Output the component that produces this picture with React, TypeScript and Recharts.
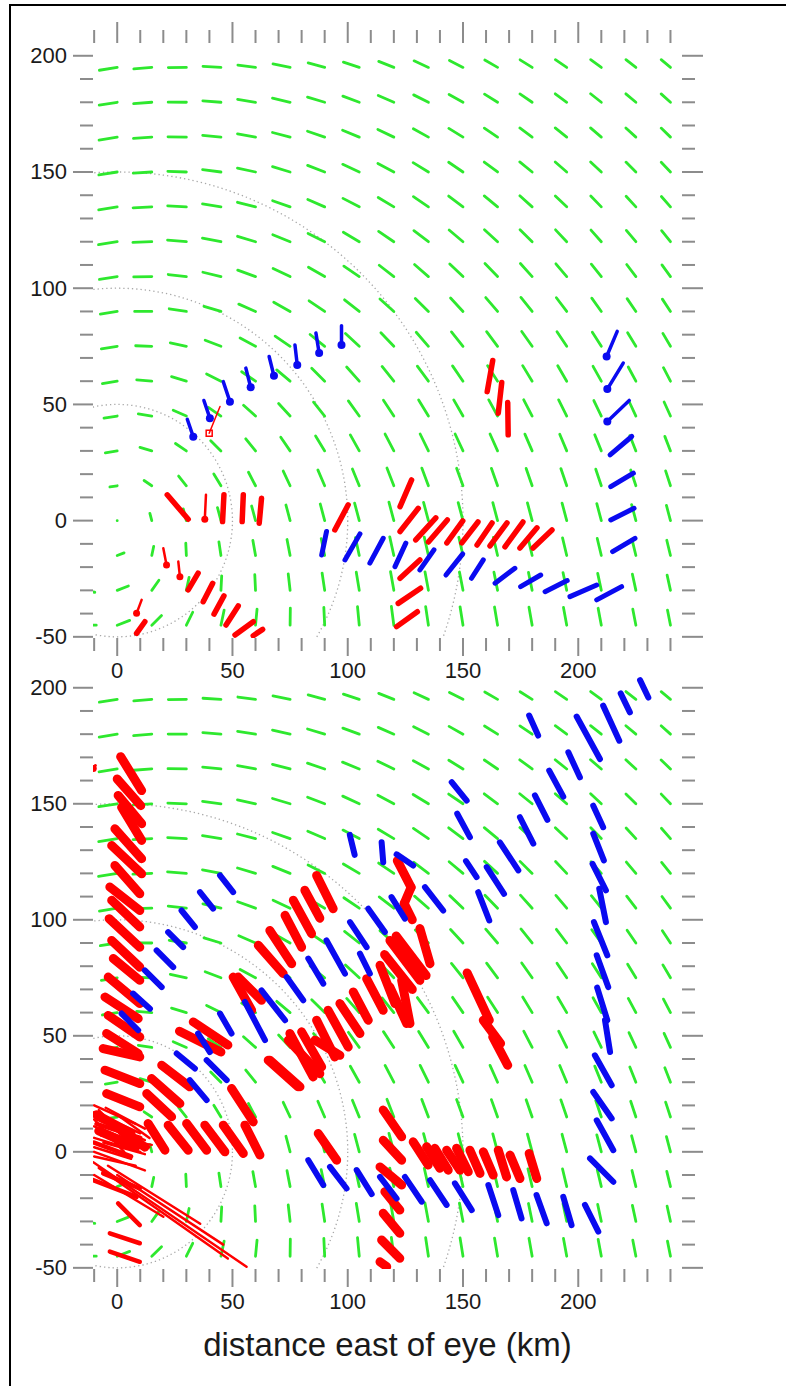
import React from 'react';
import { ScatterChart, Scatter, XAxis, YAxis } from 'recharts';

type Seg = [number, number, number, number];

// axes (km from the eye)
const X_DOMAIN: [number, number] = [-10.5, 245];
const Y_DOMAIN: [number, number] = [-50.5, 205.5];
const X_TICKS = [-10, 0, 10, 20, 30, 40, 50, 60, 70, 80, 90, 100, 110, 120, 130, 140, 150, 160, 170, 180, 190, 200, 210, 220, 230, 240];
const Y_TICKS = [-50, -40, -30, -20, -10, 0, 10, 20, 30, 40, 50, 60, 70, 80, 90, 100, 110, 120, 130, 140, 150, 160, 170, 180, 190, 200];
const X_LABELS = [0, 50, 100, 150, 200];
const Y_LABELS = [-50, 0, 50, 100, 150, 200];
const X_TITLE = 'distance east of eye (km)';

// range rings round the eye
const RINGS = [50, 100, 150];

// background (green) wind field, bases on a 15 km grid
const GRID_X = [-15, 0, 15, 30, 45, 60, 75, 90, 105, 120, 135, 150, 165, 180, 195, 210, 225, 240];
const GRID_Y = [-45, -30, -15, 0, 15, 30, 45, 60, 75, 90, 105, 120, 135, 150, 165, 180, 195];
// inflow angle, by azimuth (deg)
const INFLOW_AZ = [-180, -90, -45, -20, 0, 30, 60, 90, 180];
const INFLOW_DEG = [10, 21, 33, 28, 15, 12, 10, 9, 10];
// arrow length (km) by distance from the eye (km)
const SPEED_R = [0, 15, 30, 45, 60, 90, 120, 200, 250, 310, 400];
const SPEED_LEN = [0, 3.2, 5.2, 5.8, 6.5, 7.4, 8.2, 7.8, 6.5, 5.2, 5.0];

// upper panel: observed vectors [x1, y1, x2, y2] (km)
const P1_BLUE_DOT: Seg[] = [
  [30.4, 43.6, 33.0, 36.1], [37.6, 51.7, 40.2, 44.1], [46.0, 59.8, 48.9, 51.2], [55.8, 65.6, 57.9, 57.4],
  [65.9, 70.6, 68.0, 62.3], [77.1, 75.6, 78.1, 67.0], [86.2, 80.7, 87.6, 72.1], [97.3, 83.8, 97.3, 75.6],
  [216.9, 81.4, 212.3, 70.6], [219.5, 67.8, 212.6, 56.6], [222.1, 51.7, 212.6, 42.6],
];
const P1_BLUE: Seg[] = [
  [223.2, 36.2, 213.8, 28.3], [223.9, 20.4, 214.1, 14.6], [224.2, 5.3, 214.1, 0.3], [224.6, -7.6, 214.9, -13.3],
  [90.8, -4.7, 88.7, -14.8], [105.3, -5.7, 98.8, -16.9], [115.4, -7.6, 109.6, -18.3], [125.2, -9.7, 120.5, -19.8],
  [137.4, -12.6, 131.3, -21.2], [149.9, -14.3, 142.6, -23.4], [158.8, -16.9, 153.7, -24.8], [172.5, -20.5, 163.9, -26.9],
  [183.7, -23.4, 175.0, -28.4], [195.2, -25.8, 185.6, -30.6], [208.0, -27.7, 196.4, -32.7], [218.8, -28.4, 208.0, -34.1],
];
const P1_RED: Seg[] = [
  [21.7, 11.1, 30.8, 0.6], [46.3, 11.1, 45.7, -0.4], [54.7, 11.1, 54.2, -0.4], [62.6, 9.6, 61.6, -1.1],
  [35.1, -22.6, 30.8, -29.8], [41.4, -27.0, 37.3, -34.9], [46.3, -32.4, 42.0, -40.2], [52.5, -36.7, 47.2, -44.9],
  [59.0, -43.5, 51.1, -49.2], [63.1, -46.8, 59.0, -49.5], [12.0, -43.5, 8.4, -48.5], [100.2, 6.8, 94.4, -4.0],
  [162.9, 68.9, 160.5, 55.5], [166.8, 59.4, 165.3, 46.2], [169.4, 50.8, 169.6, 36.9],
  [127.7, 17.5, 122.7, 6.0], [130.6, 5.3, 122.7, -4.7], [131.3, -16.9, 122.7, -24.8], [131.6, -29.1, 121.9, -35.6],
  [130.2, -39.2, 121.2, -45.6],
  [138.2, 1.2, 129.5, -8.3], [143.2, 0.3, 135.0, -9.2], [149.9, -0.1, 143.0, -9.6], [156.5, -0.6, 149.5, -9.6],
  [162.6, -1.0, 156.1, -10.5], [169.1, -1.0, 161.7, -10.9], [176.0, -0.6, 168.2, -11.3], [182.1, -3.1, 174.7, -11.8],
  [188.6, -4.0, 180.4, -11.8],
];
const P1_RED_DOT: Seg[] = [
  [38.5, 11.1, 38.0, 0.6], [20.0, -11.9, 21.4, -19.1], [26.5, -17.6, 27.2, -24.1], [10.6, -34.1, 8.4, -39.9],
];
const P1_RED_SQUARE: Seg[] = [[44.6, 49.1, 39.9, 37.6]];

// lower panel
const P2_BLUE: Seg[] = [
  [226.8, 203.3, 230.4, 195.8], [218.4, 197.6, 222.4, 189.4], [210.8, 192.3, 217.8, 177.2], [199.3, 187.6, 209.4, 169.3],
  [178.7, 188.0, 182.6, 179.4], [195.7, 172.2, 200.7, 161.4], [187.4, 164.3, 193.5, 153.1], [181.2, 153.6, 186.6, 143.1],
  [174.7, 144.2, 180.5, 132.8], [166.0, 133.4, 174.0, 121.3], [145.1, 159.3, 151.6, 151.4], [147.5, 145.7, 153.0, 135.6],
  [151.3, 125.3, 155.9, 118.4], [160.3, 122.7, 167.8, 111.2], [156.6, 111.9, 161.4, 99.7],
  [206.5, 149.2, 210.8, 139.9], [206.5, 137.1, 211.1, 125.6], [206.2, 124.1, 212.0, 112.7], [209.1, 113.4, 212.0, 99.0],
  [206.8, 99.0, 212.6, 84.7], [208.0, 84.7, 213.0, 71.0], [208.2, 70.8, 212.6, 56.7], [211.6, 56.7, 213.8, 43.0],
  [207.2, 41.6, 214.5, 28.7], [206.5, 25.8, 214.5, 14.4], [208.0, 13.6, 215.2, 0.7], [205.1, -2.8, 215.2, -12.9],
  [202.9, -22.9, 208.7, -34.4], [193.5, -19.4, 197.1, -31.6], [181.9, -18.6, 186.3, -30.8], [171.8, -16.5, 175.4, -28.7],
  [161.0, -14.3, 165.3, -27.3], [146.5, -13.6, 153.8, -25.1], [135.7, -12.2, 142.9, -22.9], [124.8, -10.8, 132.1, -21.5],
  [114.0, -10.8, 121.2, -20.1], [103.9, -7.9, 110.4, -18.2], [92.3, -6.5, 99.5, -15.8], [82.9, -3.6, 89.4, -14.3],
  [100.9, 136.6, 103.0, 128.0], [114.7, 133.4, 115.4, 124.8], [121.2, 128.2, 128.4, 123.4], [133.5, 114.1, 141.4, 104.0],
  [119.0, 109.8, 124.8, 100.5], [108.9, 104.8, 116.1, 94.7], [101.0, 99.0, 108.2, 88.2], [105.3, 85.4, 109.6, 76.8],
  [90.8, 91.1, 98.8, 76.8], [82.9, 83.3, 89.4, 72.5], [73.5, 75.3, 80.7, 65.3], [62.6, 69.6, 72.8, 56.7],
  [55.4, 64.6, 64.1, 48.1], [44.6, 59.6, 49.6, 51.0], [44.6, 119.1, 50.3, 111.9], [35.9, 111.9, 41.6, 104.8],
  [27.9, 104.0, 33.7, 96.9], [22.1, 94.7, 28.6, 88.2], [17.1, 86.8, 24.3, 79.6], [12.0, 78.2, 19.3, 71.0],
  [6.9, 68.2, 14.2, 61.7], [1.9, 59.6, 9.1, 52.4], [35.1, 51.0, 40.2, 43.0], [25.8, 42.4, 33.7, 35.9],
  [38.8, 39.5, 47.5, 30.9], [31.5, 30.9, 38.8, 22.3],
];
const P2_RED: Seg[] = [
  [1.5, 170.3, 10.6, 155.7], [0.0, 160.7, 10.2, 149.2], [0.4, 153.6, 10.6, 141.4], [1.9, 148.5, 10.6, 134.2],
  [-1.0, 139.2, 10.6, 126.3], [-2.4, 132.0, 10.6, 119.8], [-1.0, 123.4, 9.8, 111.2], [-3.2, 114.1, 9.8, 104.0],
  [-2.4, 108.4, 9.8, 96.9], [-3.5, 100.5, 9.8, 88.2], [-2.4, 91.1, 9.8, 79.6], [-1.7, 83.3, 9.8, 73.9],
  [-3.9, 75.3, 9.8, 63.9], [-5.3, 66.7, 9.1, 57.4], [-3.9, 58.8, 9.8, 49.5], [-4.6, 51.0, 9.1, 42.4],
  [-6.1, 44.5, 9.8, 40.9], [-5.3, 35.2, 9.8, 29.4], [-4.6, 25.1, 9.8, 19.4], [-9.0, 16.0, 6.0, 8.0], [-2.0, 12.0, 12.0, 2.0],
  [-8.0, 9.0, 8.0, 2.0],
  [27.0, 52.0, 45.0, 43.0], [33.0, 56.0, 48.0, 46.0], [19.3, 37.3, 31.5, 28.0], [14.9, 31.6, 27.2, 20.8],
  [12.8, 25.1, 23.6, 15.1], [13.4, 12.2, 20.7, 0.7], [22.1, 11.5, 30.8, 0.7], [30.1, 12.2, 38.8, 0.7],
  [38.0, 11.5, 46.7, 0.0], [46.0, 11.5, 54.7, -0.7], [55.4, 11.5, 61.9, -1.4], [49.6, 27.3, 59.0, 12.9],
  [65.5, 39.5, 78.5, 28.0], [74.2, 48.1, 87.9, 33.7], [85.8, 48.1, 96.6, 41.6], [87.2, 7.9, 95.2, -3.6],
  [86.5, 119.1, 93.7, 104.8], [81.4, 112.7, 87.9, 100.7], [76.4, 108.4, 84.3, 94.0], [72.8, 101.9, 80.0, 88.2],
  [66.2, 95.4, 75.7, 81.1], [61.2, 89.0, 72.0, 76.8], [50.3, 75.3, 58.3, 61.0], [52.5, 75.3, 62.6, 65.3],
  [74.9, 51.0, 85.0, 32.3], [80.0, 51.7, 88.7, 36.6], [86.5, 56.7, 94.4, 40.9], [91.5, 61.0, 100.2, 45.2],
  [96.6, 63.9, 105.3, 51.0], [102.4, 68.9, 108.9, 56.7], [108.2, 74.6, 115.4, 61.0], [114.0, 80.4, 120.5, 63.9],
  [118.3, 71.0, 125.6, 55.3], [66.2, 39.5, 79.3, 28.0], [118.3, 91.1, 131.3, 73.9], [121.0, 93.0, 134.0, 76.0],
  [116.0, 85.0, 128.0, 70.0], [121.5, 125.5, 127.5, 114.0], [127.5, 114.0, 124.5, 107.0], [124.5, 107.0, 128.0, 100.0],
  [131.3, 96.2, 135.7, 81.1], [123.4, 73.9, 127.0, 55.3], [151.8, 77.1, 161.4, 56.7], [158.8, 56.7, 166.3, 46.7],
  [162.9, 49.5, 169.4, 37.3],
  [115.4, 18.0, 123.4, 6.5], [115.4, 5.0, 123.4, -3.6], [114.0, -6.5, 123.4, -14.3], [116.1, -17.2, 122.6, -25.1],
  [115.4, -26.5, 122.6, -35.1], [114.7, -38.0, 122.6, -45.9], [114.0, -47.4, 116.9, -49.5],
  [128.4, 4.3, 134.9, -5.7], [134.2, 2.2, 140.0, -7.1], [137.8, 1.5, 143.6, -7.9], [142.9, 0.7, 148.7, -7.9],
  [147.2, 1.5, 152.3, -8.6], [153.0, 0.7, 157.4, -9.3], [158.8, 0.0, 163.1, -10.0], [165.3, 0.7, 168.9, -10.8],
  [170.4, -1.4, 174.7, -11.5], [178.7, -0.7, 182.0, -11.5],
];
const P2_RED_MED: Seg[] = [
  [-6.1, -9.3, 9.8, -15.8], [0.4, -22.2, 9.8, -31.6], [-3.2, -35.1, 9.8, -39.4], [-3.2, -43.0, 9.8, -47.4],
  [-10.4, -12.2, 8.4, -19.4], [-10.0, 4.0, 6.0, -2.0], [-9.0, 12.0, 10.0, 6.0],
];
const P2_RED_THIN: Seg[] = [
  [-10, 20, 8, 12], [-10, 17, 10, 8], [-9, 14, 12, 5], [-10, 11, 8, 4], [-8, 9, 14, 2], [-10, 6, 10, 0],
  [-6, 4, 12, -1], [-10, 2, 6, -3], [-4, 13, 6, 3], [-8, 18, 4, 6], [0, 16, 14, 6], [-10, -2, 8, -6],
  [-10, 0, 12, -8], [-7, 7, 15, 3], [-10, 14, 3, 0], [-5, 19, 12, 10],
  [-10.4, -4.5, 56.1, -49.5], [-4, -6, 36, -31], [0, -10, 46, -40], [-10, -10, 20, -28], [-8, -7, 48, -46],
];
const P2_RED_DOT: Seg[] = [[-9.5, 166.5, -10.4, 165.2]];

const PLOT_LEFT = 93;
const PLOT_RIGHT = 682;
const GREEN = '#2ee82e';
const RED = '#ff0000';
const BLUE = '#0a0af0';
const TICK = '#8c8c8c';
const FONT = '"Liberation Sans", Arial, sans-serif';

const lerp = (xs: number[], ys: number[], v: number) => {
  if (v <= xs[0]) return ys[0];
  for (let i = 1; i < xs.length; i++) {
    if (v <= xs[i]) return ys[i - 1] + ((v - xs[i - 1]) / (xs[i] - xs[i - 1])) * (ys[i] - ys[i - 1]);
  }
  return ys[ys.length - 1];
};

// green arrows: tangent to the ring about the eye, turned inward by the inflow angle
const greenField = GRID_Y.flatMap((gy) =>
  GRID_X.map((gx) => {
    const r = Math.hypot(gx, gy);
    if (r === 0) return { x: 0, y: 0, x2: 0, y2: 0 };
    const a = (lerp(INFLOW_AZ, INFLOW_DEG, (Math.atan2(gy, gx) * 180) / Math.PI) * Math.PI) / 180;
    const tx = -gy / r, ty = gx / r;
    const nx = -gx / r, ny = -gy / r;
    const len = lerp(SPEED_R, SPEED_LEN, r);
    return {
      x: gx, y: gy,
      x2: gx + (Math.cos(a) * tx + Math.sin(a) * nx) * len,
      y2: gy + (Math.cos(a) * ty + Math.sin(a) * ny) * len,
    };
  })
);

const toPts = (segs: Seg[]) => segs.map(([x, y, x2, y2]) => ({ x, y, x2, y2 }));
const ringPts = RINGS.map((r) => ({ x: 0, y: 0, r }));

interface Geo { kx: number; ky: number; top: number; bottom: number }

const vecShape = (g: Geo, color: string, width: number, cap?: 'dot' | 'square', capSize = 4) => (props: any) => {
  const { cx, cy, payload } = props;
  const ex = cx + (payload.x2 - payload.x) * g.kx;
  const ey = cy - (payload.y2 - payload.y) * g.ky;
  return (
    <g>
      <line x1={cx} y1={cy} x2={ex} y2={ey} stroke={color} strokeWidth={width} strokeLinecap="round" />
      {cap === 'dot' && <circle cx={ex} cy={ey} r={capSize} fill={color} />}
      {cap === 'square' && (
        <rect x={ex - capSize} y={ey - capSize} width={capSize * 2} height={capSize * 2} fill="none" stroke={color} strokeWidth={1.5} />
      )}
    </g>
  );
};

const ringShape = (g: Geo) => (props: any) => {
  const { cx, cy, payload } = props;
  return (
    <ellipse cx={cx} cy={cy} rx={payload.r * g.kx} ry={payload.r * g.ky} fill="none" stroke="#a8a8a8"
      strokeWidth={1.3} strokeDasharray="1.3 3" />
  );
};

interface Layer { data: Seg[]; color: string; width: number; cap?: 'dot' | 'square'; capSize?: number }

interface PanelProps {
  top: number;
  height: number;
  plotTop: number;
  plotBottom: number;
  topTicks: boolean;
  layers: Layer[];
}

function Panel({ top, height, plotTop, plotBottom, topTicks, layers }: PanelProps) {
  const g: Geo = {
    kx: (PLOT_RIGHT - PLOT_LEFT) / (X_DOMAIN[1] - X_DOMAIN[0]),
    ky: (plotBottom - plotTop) / (Y_DOMAIN[1] - Y_DOMAIN[0]),
    top: plotTop - top,
    bottom: plotBottom - top,
  };

  const xTick = (p: any) => {
    const v = p.payload.value;
    const major = v % 50 === 0;
    const y0 = g.bottom;
    return (
      <g>
        <line x1={p.x} x2={p.x} y1={y0} y2={y0 + (major ? 18 : 13)} stroke={TICK} strokeWidth={2} />
        {topTicks && (
          <line x1={p.x} x2={p.x} y1={g.top - (major ? 21 : 13)} y2={g.top} stroke={TICK} strokeWidth={2} />
        )}
        {X_LABELS.includes(v) && (
          <text x={p.x} y={y0 + 32} textAnchor="middle" dominantBaseline="central" fontSize={22}
            fontFamily={FONT} fill="#1a1a1a">{v}</text>
        )}
      </g>
    );
  };

  const yTick = (p: any) => {
    const v = p.payload.value;
    const major = v % 50 === 0;
    const x0 = PLOT_LEFT;
    return (
      <g>
        <line x1={x0 - (major ? 20 : 13)} x2={x0} y1={p.y} y2={p.y} stroke={TICK} strokeWidth={2} />
        <line x1={PLOT_RIGHT} x2={PLOT_RIGHT + (major ? 21 : 13)} y1={p.y} y2={p.y} stroke={TICK} strokeWidth={2} />
        {Y_LABELS.includes(v) && (
          <text x={x0 - 26} y={p.y} textAnchor="end" dominantBaseline="central" fontSize={22}
            fontFamily={FONT} fill="#1a1a1a">{v}</text>
        )}
      </g>
    );
  };

  return (
    <div style={{ position: 'absolute', left: 0, top }}>
      <ScatterChart
        width={786}
        height={height}
        margin={{ top: plotTop - top, right: 786 - PLOT_RIGHT, bottom: top + height - plotBottom - 1, left: PLOT_LEFT - 1 }}
      >
        <XAxis type="number" dataKey="x" domain={X_DOMAIN} ticks={X_TICKS} interval={0} allowDataOverflow
          axisLine={false} tickLine={false} tickSize={0} tickMargin={0} height={1} tick={xTick} />
        <YAxis type="number" dataKey="y" domain={Y_DOMAIN} ticks={Y_TICKS} interval={0} allowDataOverflow
          axisLine={false} tickLine={false} tickSize={0} tickMargin={0} width={1} tick={yTick} />
        <Scatter data={ringPts} shape={ringShape(g)} isAnimationActive={false} />
        <Scatter data={greenField} shape={vecShape(g, GREEN, 2.8)} isAnimationActive={false} />
        {layers.map((l, i) => (
          <Scatter key={i} data={toPts(l.data)} shape={vecShape(g, l.color, l.width, l.cap, l.capSize)}
            isAnimationActive={false} />
        ))}
      </ScatterChart>
    </div>
  );
}

export default function App() {
  return (
    <div style={{ position: 'absolute', left: 0, top: 0, width: 786, height: 1386, overflow: 'hidden', background: '#fff' }}>
      <div style={{ position: 'absolute', left: 9, top: 4, width: 777, height: 1382, borderLeft: '2px solid #000', borderTop: '2px solid #000' }} />
      <Panel
        top={0}
        height={700}
        plotTop={43}
        plotBottom={638}
        topTicks
        layers={[
          { data: P1_RED, color: RED, width: 5.5 },
          { data: P1_RED_DOT, color: RED, width: 2.5, cap: 'dot', capSize: 3.5 },
          { data: P1_RED_SQUARE, color: RED, width: 1.5, cap: 'square', capSize: 3 },
          { data: P1_BLUE, color: BLUE, width: 5 },
          { data: P1_BLUE_DOT, color: BLUE, width: 3.5, cap: 'dot', capSize: 4 },
        ]}
      />
      <Panel
        top={640}
        height={746}
        plotTop={675}
        plotBottom={1269}
        topTicks={false}
        layers={[
          { data: P2_RED_THIN, color: RED, width: 2.5 },
          { data: P2_RED_MED, color: RED, width: 4.5 },
          { data: P2_RED, color: RED, width: 9 },
          { data: P2_RED_DOT, color: RED, width: 3, cap: 'dot', capSize: 3.5 },
          { data: P2_BLUE, color: BLUE, width: 6 },
        ]}
      />
      <div style={{ position: 'absolute', left: PLOT_LEFT, width: PLOT_RIGHT - PLOT_LEFT, top: 1327, lineHeight: '36px',
        textAlign: 'center', fontSize: 33, fontFamily: FONT, color: '#1a1a1a' }}>{X_TITLE}</div>
    </div>
  );
}
